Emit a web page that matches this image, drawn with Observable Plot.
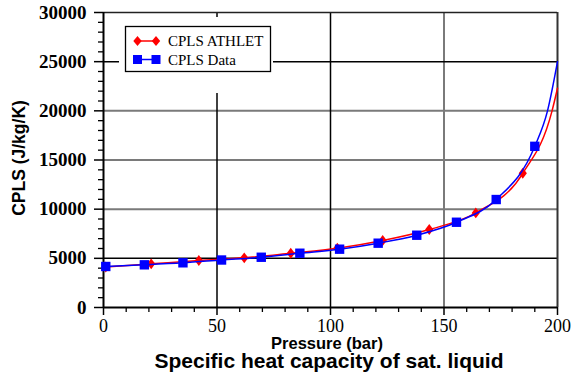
<!DOCTYPE html>
<html>
<head>
<meta charset="utf-8">
<script src="https://cdn.jsdelivr.net/npm/d3@7"></script>
<script src="https://cdn.jsdelivr.net/npm/@observablehq/plot@0.6"></script>
<style>
  body { margin: 0; background: #fff; }
  #chart { position: relative; width: 572px; height: 381px; overflow: hidden; background: #fff; }
  #chart svg.plot { display: block; }
  #chart svg.plot text { font-family: "Liberation Serif", "Times New Roman", serif !important; }
  #chart svg.plot g[aria-label="y-axis tick label"] text { font-weight: bold; }
  #title {
    margin-left: 86px; width: 486px; text-align: center;
    font: bold 21px "Liberation Sans", Arial, sans-serif; line-height: 17px; color: #000;
    white-space: nowrap;
  }
  #overlay { position: absolute; left: 0; top: 0; pointer-events: none; }
</style>
</head>
<body>
<div id="chart"></div>
<script>
// Saturated-liquid specific heat capacity (J/kg/K) against pressure (bar)
const athletP  = [1, 21, 42, 62, 82.5, 103, 123, 143.5, 164, 184.7];
const athletCp = [4120, 4440, 4780, 5050, 5520, 6030, 6810, 7930, 9620, 13650];
const dataP    = [1, 18, 35, 52, 69.5, 86.5, 104, 121, 138, 155.5, 173, 190];
const dataCp   = [4170, 4340, 4545, 4830, 5110, 5520, 5930, 6540, 7350, 8670, 10980, 16390];
// curve continues past the last marker up to 200 bar
const athletTailP  = [197.6, 200];
const athletTailCp = [20000, 22300];
const dataTailP    = [195.6, 200];
const dataTailCp   = [20000, 25000];

// axis ticks and grid
const xTicks = [0, 50, 100, 150, 200];
const xMinor = [10, 20, 30, 40, 60, 70, 80, 90, 110, 120, 130, 140, 160, 170, 180, 190];
const yTicks = [0, 5000, 10000, 15000, 20000, 25000, 30000];
const yMinor = [1000, 2000, 3000, 4000, 6000, 7000, 8000, 9000, 11000, 12000, 13000, 14000,
                16000, 17000, 18000, 19000, 21000, 22000, 23000, 24000, 26000, 27000, 28000, 29000];
const gridBlackX = [50, 100];
const gridGrayX  = [150];
const gridBlackY = [5000, 25000];
const gridGrayY  = [10000, 15000, 20000];

const seriesNames = ["CPLS ATHLET", "CPLS Data"];
const xTitle = "Pressure (bar)";
const yTitle = "CPLS (J/kg/K)";
const chartTitle = "Specific heat capacity of sat. liquid";

const athlet = athletP.map((p, i) => ({p, cp: athletCp[i]}));
const data = dataP.map((p, i) => ({p, cp: dataCp[i]}));
const athletLine = athlet.concat(athletTailP.map((p, i) => ({p, cp: athletTailCp[i]})));
const dataLine = data.concat(dataTailP.map((p, i) => ({p, cp: dataTailCp[i]})));

// slightly narrow diamond marker
const narrowDiamond = {
  draw(ctx, size) {
    const h = Math.sqrt(size) * 0.7, w = h * 0.75;
    ctx.moveTo(0, -h); ctx.lineTo(w, 0); ctx.lineTo(0, h); ctx.lineTo(-w, 0); ctx.closePath();
  }
};

const serif = "'Liberation Serif', 'Times New Roman', serif";
const sans = "'Liberation Sans', Arial, sans-serif";
const fmt = d => String(d);

const plot = Plot.plot({
  width: 572,
  height: 352,
  marginLeft: 103,
  marginRight: 15,
  marginTop: 12,
  marginBottom: 45,
  x: {domain: [0, 200]},
  y: {domain: [0, 30000]},
  style: {fontFamily: serif, background: "white", overflow: "visible", color: "black"},
  marks: [
    Plot.ruleY(gridGrayY, {stroke: "#7a7a7a", strokeWidth: 2}),
    Plot.ruleX(gridGrayX, {stroke: "#7a7a7a", strokeWidth: 2}),
    Plot.ruleY(gridBlackY, {stroke: "#000", strokeWidth: 1.5}),
    Plot.ruleX(gridBlackX, {stroke: "#000", strokeWidth: 1.5}),
    Plot.ruleX([200], {stroke: "#333", strokeWidth: 2}),
    Plot.ruleY([30000], {stroke: "#222", strokeWidth: 1.5}),
    Plot.axisY(yTicks, {anchor: "left", tickSize: 9, tickPadding: 8, strokeWidth: 1.5,
      fontSize: 19, fontWeight: "bold", fontFamily: serif, tickFormat: fmt, label: null}),
    Plot.axisY(yMinor, {anchor: "left", tickSize: 5, strokeWidth: 1.3, fill: "none", label: null}),
    Plot.axisX(xTicks, {anchor: "bottom", tickSize: 8, tickPadding: 4, strokeWidth: 1.5,
      fontSize: 18, fontFamily: serif, tickFormat: fmt, label: null}),
    Plot.axisX(xMinor, {anchor: "bottom", tickSize: 5, strokeWidth: 1.3, fill: "none", label: null}),
    Plot.ruleX([0], {stroke: "#000", strokeWidth: 2}),
    Plot.ruleY([0], {stroke: "#000", strokeWidth: 2}),
    Plot.line(athletLine, {x: "p", y: "cp", stroke: "#ff0000", strokeWidth: 1.5, curve: "monotone-x"}),
    Plot.dot(athlet, {x: "p", y: "cp", symbol: narrowDiamond, r: 4.4, fill: "#ff0000", stroke: "none"}),
    Plot.line(dataLine, {x: "p", y: "cp", stroke: "#0000ff", strokeWidth: 1.5, curve: "monotone-x"}),
    Plot.dot(data, {x: "p", y: "cp", symbol: "square", r: 5.3, fill: "#0000ff", stroke: "none"})
  ]
});
plot.classList.add("plot");

const chart = document.getElementById("chart");
chart.appendChild(plot);

const title = document.createElement("div");
title.id = "title";
title.textContent = chartTitle;
chart.appendChild(title);

// axis titles and legend drawn on top of the plot
const ov = d3.select(chart).append("svg")
  .attr("id", "overlay").attr("width", 572).attr("height", 381);

ov.append("text")
  .attr("transform", "translate(25,158) rotate(-90)")
  .attr("text-anchor", "middle")
  .style("font-family", sans)
  .attr("font-weight", "bold").attr("font-size", 17.5)
  .text(yTitle);

ov.append("text")
  .attr("x", 327).attr("y", 349)
  .attr("text-anchor", "middle")
  .style("font-family", sans)
  .attr("font-weight", "bold").attr("font-size", 16.5)
  .text(xTitle);

// legend: white clearing behind the box, then the bordered box
const lg = ov.append("g");
lg.append("rect").attr("x", 119).attr("y", 17).attr("width", 154).attr("height", 76).attr("fill", "white");
lg.append("rect").attr("x", 125.5).attr("y", 26.5).attr("width", 145).attr("height", 45)
  .attr("fill", "white").attr("stroke", "#000").attr("stroke-width", 1.3);

const rows = [
  {name: seriesNames[0], color: "#ff0000", cy: 41, kind: "diamond", tb: 46},
  {name: seriesNames[1], color: "#0000ff", cy: 59.5, kind: "square", tb: 64.5}
];
for (const r of rows) {
  lg.append("line").attr("x1", 137).attr("x2", 156).attr("y1", r.cy).attr("y2", r.cy)
    .attr("stroke", r.color).attr("stroke-width", 1.5);
  for (const cx of [137.5, 156]) {
    if (r.kind === "diamond") {
      lg.append("path")
        .attr("d", `M${cx},${r.cy - 5}L${cx + 4.2},${r.cy}L${cx},${r.cy + 5}L${cx - 4.2},${r.cy}Z`)
        .attr("fill", r.color);
    } else {
      lg.append("rect").attr("x", cx - 4.5).attr("y", r.cy - 4.5).attr("width", 9).attr("height", 9)
        .attr("fill", r.color);
    }
  }
  lg.append("text").attr("x", 168).attr("y", r.tb)
    .style("font-family", serif).attr("font-size", 15)
    .text(r.name);
}
</script>
</body>
</html>
